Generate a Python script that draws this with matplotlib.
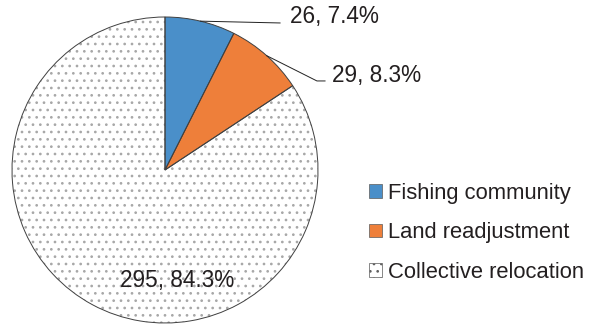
import matplotlib.pyplot as plt
import numpy as np

categories = ["Fishing community", "Land readjustment", "Collective relocation"]
counts = [26, 29, 295]
colors = ["#4a8fc9", "#ee7f3a", "white"]
hatches = ["", "", ".."]

# label anchors (left/baseline) and leader bends, in pie units
label_xy = [(0.817, 0.961), (1.092, 0.575), (0.078, -0.765)]
leader_bends = [[(0.752, 0.961)], [(0.993, 0.582), (1.046, 0.582)], []]

DPI = 88
W, H = 592, 326

plt.rcParams["font.family"] = ["Liberation Sans", "DejaVu Sans"]
plt.rcParams["hatch.color"] = "#a8a8a8"
plt.rcParams["hatch.linewidth"] = 1.0

fig = plt.figure(figsize=(W / DPI, H / DPI), dpi=DPI)
ax = fig.add_axes([12 / W, 3 / H, 306 / W, 306 / H])

wedges, _ = ax.pie(counts, colors=colors, hatch=hatches,
                   startangle=90, counterclock=False)
# outlines drawn on top so the dot hatch can stay grey
ax.pie(counts, startangle=90, counterclock=False,
       wedgeprops=dict(fill=False, edgecolor="#404040", linewidth=0.8))
ax.set_xlim(-1, 1)
ax.set_ylim(-1, 1)

total = sum(counts)
text_color = "#231f20"
for w, c, (tx, ty), bends in zip(wedges, counts, label_xy, leader_bends):
    txt = f"{c}, {100 * c / total:.1f}%"
    if bends:
        mid = np.deg2rad((w.theta1 + w.theta2) / 2)
        pts = [(np.cos(mid), np.sin(mid))] + bends
        xs, ys = zip(*pts)
        ax.plot(xs, ys, color="#222222", lw=0.8, clip_on=False)
        ax.text(tx, ty, txt, ha="left", va="baseline", fontsize=18.5,
                color=text_color)
    else:
        ax.text(tx, ty, txt, ha="center", va="baseline", fontsize=18.5,
                color=text_color)

leg = ax.legend(wedges, categories, loc="upper left",
                bbox_to_anchor=(369 / W, (H - 183) / H),
                bbox_transform=fig.transFigure, frameon=False,
                fontsize=18, handlelength=0.6, handleheight=0.6,
                handletextpad=0.27, labelspacing=0.83,
                borderpad=0, borderaxespad=0)
for h in leg.legend_handles:
    h.set_edgecolor("#606060")
    h.set_linewidth(0.6)
for t in leg.get_texts():
    t.set_color(text_color)

fig.savefig("out.png", dpi=DPI)
